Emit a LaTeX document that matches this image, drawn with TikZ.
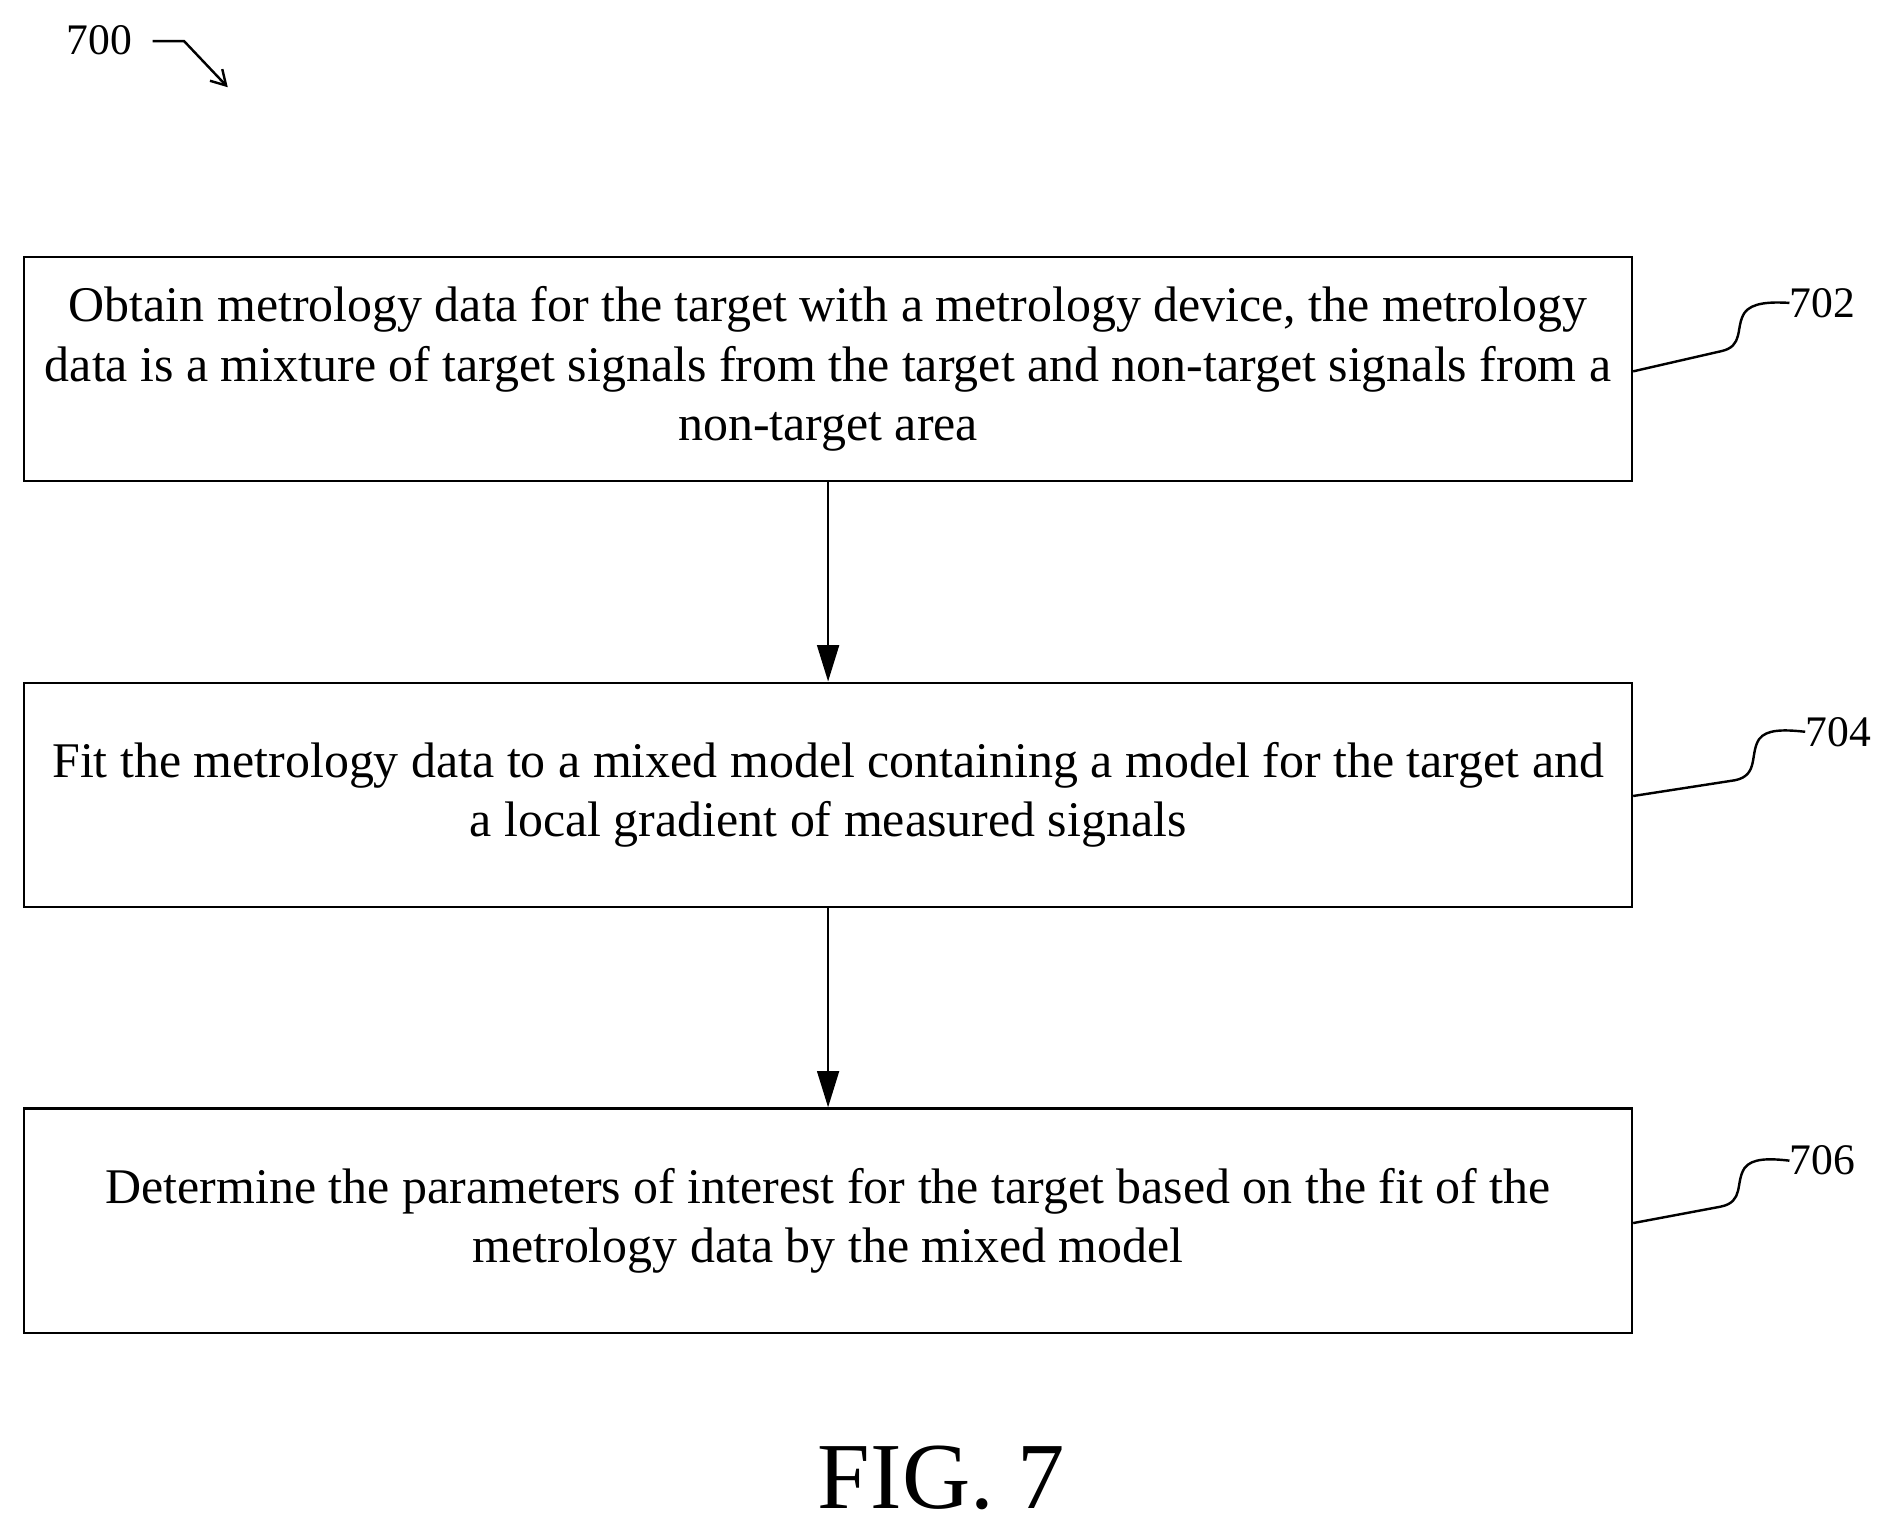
\documentclass[tikz,border=0pt]{standalone}
\usepackage{fontspec}
\setmainfont{Liberation Serif}
\usetikzlibrary{arrows.meta}
\begin{document}
\begin{tikzpicture}[x=1pt,y=-1pt,
  box/.style={draw,line width=2pt,minimum width=1327pt,minimum height=185pt,align=center,font=\fontsize{41.2}{49}\selectfont,inner sep=0pt},
  arr/.style={line width=2pt,-{Triangle[length=30pt,width=18pt]}},
  lead/.style={line width=2pt},
  lbl/.style={font=\fontsize{36}{40}\selectfont,anchor=west,inner sep=0pt}]
\useasboundingbox (0,0) rectangle (1560,1262);
\node[box] (b1) at (683.5,304.5) {Obtain metrology data for the target with a metrology device, the metrology\\data is a mixture of target signals from the target and non-target signals from a\\non-target area};
\node[box] (b2) at (683.5,656) {Fit the metrology data to a mixed model containing a model for the target and\\a local gradient of measured signals};
\node[box] (b3) at (683.5,1007.5) {Determine the parameters of interest for the target based on the fit of the\\metrology data by the mixed model};
\draw[arr] (b1.south) -- (b2.north);
\draw[arr] (b2.south) -- (b3.north);
\node[lbl] (l1) at (1477,250) {702};
\node[lbl] (l2) at (1490,604) {704};
\node[lbl] (l3) at (1477,958) {706};
\coordinate (c1) at ([yshift=-2pt]b1.east);
\coordinate (c2) at ([yshift=-1pt]b2.east);
\coordinate (c3) at ([yshift=-2pt]b3.east);
\draw[lead] (c1) -- (1420,290) .. controls (1440,286) and (1432,270) .. (1440,258) .. controls (1446,250) and (1460,249) .. (l1.west);
\draw[lead] (c2) -- (1432,644) .. controls (1452,640) and (1444,622) .. (1452,610) .. controls (1458,602) and (1472,602) .. (l2.west);
\draw[lead] (c3) -- (1420,996) .. controls (1440,992) and (1432,976) .. (1440,964) .. controls (1446,956) and (1460,956) .. (l3.west);
\node[lbl,anchor=center] (n700) at (82,33) {700};
\coordinate (a0) at (126,34);
\draw[lead,-{Straight Barb[length=12pt,width=14pt]}] (a0) -- (152,34) -- (188,72);
\node[font=\fontsize{78}{86}\selectfont] (fig) at (777,1220) {FIG. 7};
\end{tikzpicture}
\end{document}
